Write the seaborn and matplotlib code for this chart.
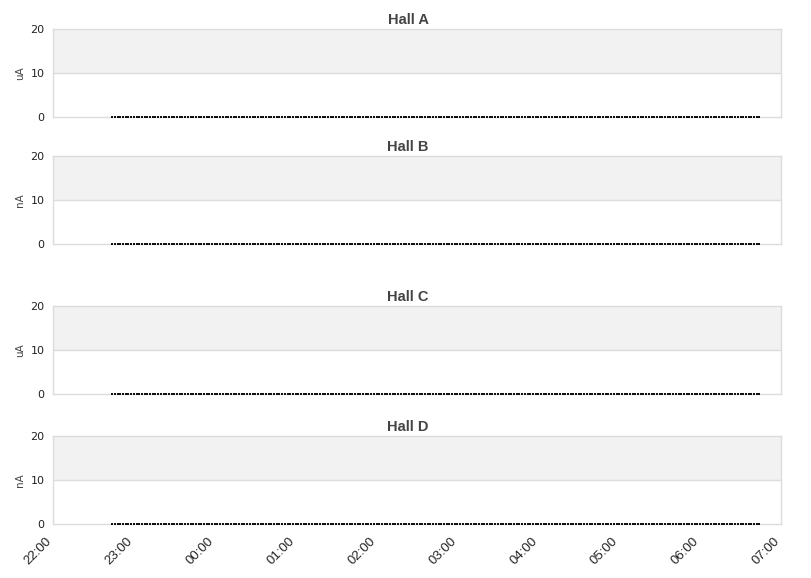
import numpy as np
import pandas as pd
import matplotlib
matplotlib.use("Agg")
import matplotlib.pyplot as plt
import matplotlib.dates as mdates
import matplotlib.transforms as mtransforms
import seaborn as sns

# ---- data ----
halls = ["Hall A", "Hall B", "Hall C", "Hall D"]
units = ["uA", "nA", "uA", "nA"]
times = pd.date_range("2024-01-01 22:44", "2024-01-02 06:44", freq="2min")
currents = {
    "Hall A": [0.0] * len(times),
    "Hall B": [0.0] * len(times),
    "Hall C": [0.0] * len(times),
    "Hall D": [0.0] * len(times),
}
x_start = pd.Timestamp("2024-01-01 22:00")
x_end = pd.Timestamp("2024-01-02 07:00")
y_ticks = [0, 10, 20]

sns.set_theme(style="white")
plt.rcParams["font.family"] = ["DejaVu Sans"]

W, H = 811, 578
fig = plt.figure(figsize=(W / 100, H / 100), dpi=100)

# pixel boxes (top, bottom) of each plot area
boxes = [(29, 117), (156, 244), (306, 394), (436, 524)]
left_px, right_px = 53, 781

border = "#dcdcdc"
for i, (hall, unit, (top, bot)) in enumerate(zip(halls, units, boxes)):
    ax = fig.add_axes([left_px / W, 1 - bot / H, (right_px - left_px) / W, (bot - top) / H])
    df = pd.DataFrame({"time": times, "value": currents[hall]})
    ax.axhspan(10, 20, color="#f2f2f2", zorder=0, lw=0)
    ax.axhline(10, color=border, lw=1, zorder=1)
    sns.scatterplot(data=df, x="time", y="value", ax=ax, marker="s", s=1.0,
                    color="#111111", linewidth=0, zorder=3, clip_on=False)
    ax.set_xlim(x_start, x_end)
    ax.set_ylim(0, 20)
    ax.set_yticks(y_ticks)
    ax.set_yticklabels([str(v) for v in y_ticks], fontsize=8, color="#222222")
    ax.set_ylabel(unit, fontsize=7.5, color="#444444", labelpad=4)
    ax.set_xlabel("")
    for s in ax.spines.values():
        s.set_color(border)
        s.set_linewidth(1)
        s.set_visible(True)
    ax.tick_params(axis="both", length=0, pad=6)
    ax.set_title(hall, fontsize=10.5, fontweight="bold", color="#444444",
                 family="Liberation Sans", pad=3.5)
    ax.title.set_x((408 - left_px) / (right_px - left_px))
    ax.xaxis.set_major_locator(mdates.HourLocator())
    ax.xaxis.set_major_formatter(mdates.DateFormatter("%H:%M"))
    if i < 3:
        ax.set_xticklabels([])
    else:
        ax.tick_params(axis="x", pad=11)
        off = mtransforms.ScaledTranslation(-3 / 100, 0, fig.dpi_scale_trans)
        for lbl in ax.get_xticklabels():
            lbl.set_rotation(45)
            lbl.set_ha("right")
            lbl.set_va("center")
            lbl.set_rotation_mode("anchor")
            lbl.set_fontsize(9.5)
            lbl.set_family("Liberation Sans")
            lbl.set_color("#222222")
            lbl.set_transform(lbl.get_transform() + off)

fig.savefig("out.png", dpi=100)
